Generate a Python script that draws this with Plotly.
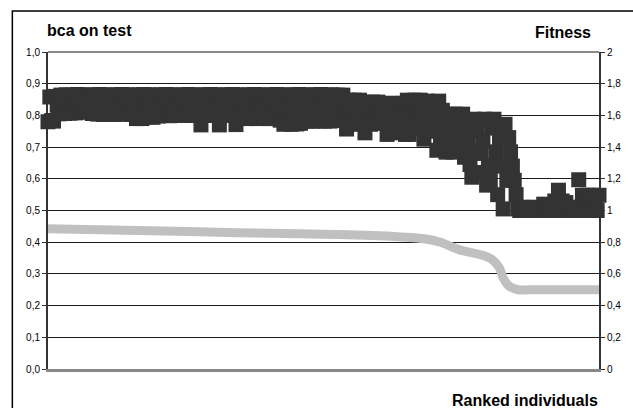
import plotly.graph_objects as go

# ---- data ----
bca_on_test = [
    0.780, 0.858, 0.784, 0.782, 0.860, 0.832, 0.805, 0.864, 0.834, 0.806,
    0.865, 0.836, 0.807, 0.864, 0.838, 0.808, 0.866, 0.838, 0.810, 0.864,
    0.840, 0.812, 0.865, 0.838, 0.806, 0.864, 0.835, 0.804, 0.866, 0.834,
    0.803, 0.864, 0.833, 0.804, 0.865, 0.834, 0.803, 0.864, 0.832, 0.805,
    0.866, 0.833, 0.804, 0.864, 0.830, 0.803, 0.865, 0.826, 0.790, 0.864,
    0.828, 0.790, 0.866, 0.830, 0.795, 0.864, 0.830, 0.794, 0.865, 0.832,
    0.798, 0.864, 0.833, 0.800, 0.866, 0.832, 0.799, 0.864, 0.833, 0.800,
    0.865, 0.832, 0.801, 0.864, 0.830, 0.800, 0.866, 0.833, 0.800, 0.864,
    0.830, 0.801, 0.865, 0.770, 0.800, 0.864, 0.830, 0.802, 0.866, 0.832,
    0.800, 0.864, 0.831, 0.770, 0.865, 0.830, 0.801, 0.864, 0.832, 0.800,
    0.866, 0.830, 0.771, 0.864, 0.828, 0.792, 0.865, 0.826, 0.790, 0.864,
    0.826, 0.791, 0.866, 0.827, 0.790, 0.864, 0.826, 0.792, 0.865, 0.828,
    0.790, 0.864, 0.826, 0.790, 0.866, 0.822, 0.785, 0.864, 0.772, 0.800,
    0.865, 0.820, 0.772, 0.864, 0.818, 0.773, 0.866, 0.775, 0.782, 0.864,
    0.822, 0.782, 0.865, 0.822, 0.782, 0.864, 0.820, 0.783, 0.866, 0.822,
    0.782, 0.864, 0.820, 0.782, 0.865, 0.820, 0.784, 0.864, 0.818, 0.790,
    0.864, 0.810, 0.757, 0.848, 0.815, 0.772, 0.848, 0.812, 0.785, 0.848,
    0.800, 0.842, 0.745, 0.810, 0.780, 0.772, 0.842, 0.808, 0.775, 0.842,
    0.808, 0.778, 0.838, 0.805, 0.740, 0.775, 0.838, 0.808, 0.745, 0.778,
    0.838, 0.808, 0.775, 0.838, 0.740, 0.848, 0.740, 0.805, 0.775, 0.848,
    0.810, 0.760, 0.848, 0.790, 0.725, 0.770, 0.845, 0.810, 0.750, 0.830,
    0.770, 0.690, 0.845, 0.730, 0.816, 0.775, 0.684, 0.804, 0.725, 0.760,
    0.684, 0.804, 0.720, 0.760, 0.700, 0.804, 0.668, 0.760, 0.715, 0.645,
    0.605, 0.788, 0.690, 0.750, 0.620, 0.680, 0.720, 0.788, 0.580, 0.640,
    0.595, 0.760, 0.788, 0.685, 0.550, 0.730, 0.640, 0.505, 0.772, 0.595,
    0.730, 0.685, 0.640, 0.595, 0.550, 0.505, 0.500, 0.510, 0.500, 0.505,
    0.505, 0.510, 0.500, 0.505, 0.510, 0.500, 0.505, 0.500, 0.505, 0.520,
    0.500, 0.505, 0.500, 0.510, 0.500, 0.530, 0.500, 0.564, 0.500, 0.530,
    0.500, 0.525, 0.500, 0.510, 0.500, 0.505, 0.500, 0.510, 0.597, 0.500,
    0.548, 0.525, 0.500, 0.548, 0.520, 0.500, 0.548, 0.525, 0.500, 0.548,
]
ranks = list(range(1, len(bca_on_test) + 1))

fitness_rank = [1, 50, 104, 158, 190, 205, 214, 224, 237, 242, 246, 248, 251, 256, 262, 300]
fitness_value = [0.885, 0.874, 0.860, 0.848, 0.835, 0.822, 0.800, 0.753, 0.717, 0.690,
                 0.637, 0.574, 0.525, 0.500, 0.500, 0.500]

left_ticks = [0.0, 0.1, 0.2, 0.3, 0.4, 0.5, 0.6, 0.7, 0.8, 0.9, 1.0]
left_labels = ["0,0", "0,1", "0,2", "0,3", "0,4", "0,5", "0,6", "0,7", "0,8", "0,9", "1,0"]
right_ticks = [0, 0.2, 0.4, 0.6, 0.8, 1.0, 1.2, 1.4, 1.6, 1.8, 2.0]
right_labels = ["0", "0,2", "0,4", "0,6", "0,8", "1", "1,2", "1,4", "1,6", "1,8", "2"]

FONT = "Liberation Sans, Arial, sans-serif"

fig = go.Figure()
fig.add_trace(go.Scatter(
    x=ranks, y=bca_on_test, mode="markers", yaxis="y",
    marker=dict(symbol="square", size=15, color="#333333", line=dict(width=0)),
    cliponaxis=False, hoverinfo="skip", name="bca on test"))
fig.add_trace(go.Scatter(
    x=fitness_rank, y=fitness_value, mode="lines", yaxis="y2",
    line=dict(color="#c0c0c0", width=9, shape="spline", smoothing=0.8),
    cliponaxis=False, hoverinfo="skip", name="Fitness"))

fig.update_layout(
    width=633, height=408, autosize=False,
    margin=dict(l=48, r=29, t=52, b=39),
    paper_bgcolor="white", plot_bgcolor="white",
    showlegend=False,
    font=dict(family=FONT, size=10, color="black"),
    xaxis=dict(range=[1, 300], showgrid=False, zeroline=False,
               showticklabels=False, ticks="",
               showline=True, linecolor="#888888", linewidth=3),
    yaxis=dict(range=[0, 1], tickvals=left_ticks, ticktext=left_labels,
               showgrid=True, gridcolor="#1a1a1a", gridwidth=1, zeroline=False,
               showline=True, linecolor="#333333", linewidth=2,
               ticks="outside", ticklen=4, tickcolor="#333333", tickwidth=1,
               tickfont=dict(family=FONT, size=10, color="black")),
    yaxis2=dict(range=[0, 2], tickvals=right_ticks, ticktext=right_labels,
                overlaying="y", side="right", showgrid=False, zeroline=False,
                showline=True, linecolor="#333333", linewidth=2,
                ticks="outside", ticklen=4, tickcolor="#333333", tickwidth=1,
                tickfont=dict(family=FONT, size=10, color="black")),
    shapes=[
        dict(type="line", xref="paper", yref="paper", x0=0, x1=1, y0=1, y1=1,
             line=dict(color="#888888", width=2), layer="above"),
        dict(type="rect", xref="paper", yref="paper", x0=-0.0647, x1=1.3,
             y0=-0.3, y1=1.129, line=dict(color="black", width=1.5),
             fillcolor="rgba(0,0,0,0)", layer="above"),
    ],
    annotations=[
        dict(text="<b>bca on test</b>", xref="paper", yref="paper",
             x=-0.006, y=1.069, xanchor="left", yanchor="middle", showarrow=False,
             font=dict(family=FONT, size=16, color="black")),
        dict(text="<b>Fitness</b>", xref="paper", yref="paper",
             x=0.989, y=1.06, xanchor="right", yanchor="middle", showarrow=False,
             font=dict(family=FONT, size=16, color="black")),
        dict(text="<b>Ranked individuals</b>", xref="paper", yref="paper",
             x=1.001, y=-0.098, xanchor="right", yanchor="middle", showarrow=False,
             font=dict(family=FONT, size=16, color="black")),
    ],
)

fig.write_html("out.html",
               config={"displayModeBar": False},
               post_script="document.body.style.margin='0';"
                           "document.body.style.overflow='hidden';")
